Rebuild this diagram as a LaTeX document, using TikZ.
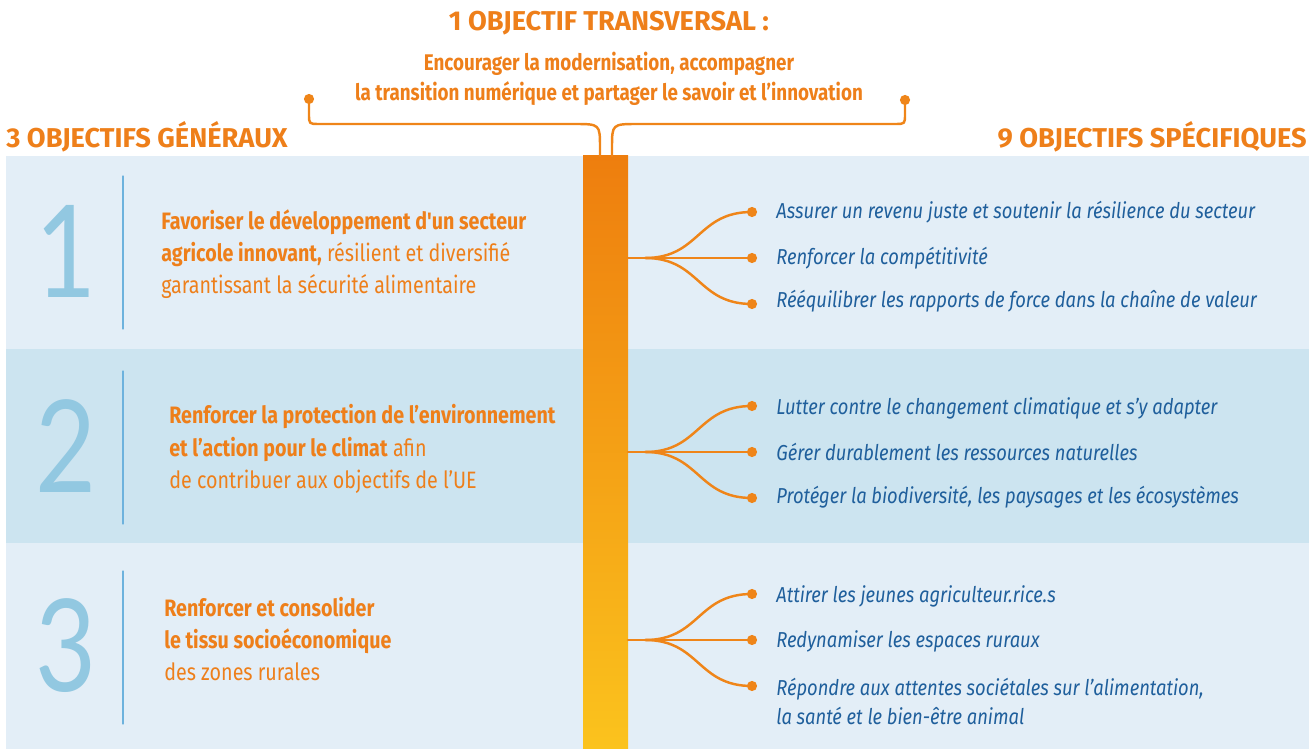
\documentclass[tikz,border=0pt]{standalone}
\usepackage{fontspec}
\setmainfont{Fira Sans}
\newfontfamily\titrefont{Fira Sans}[FakeStretch=1.0]
\newfontfamily\corpsfont{Fira Sans}[FakeStretch=0.83]
\newfontfamily\specfont{Fira Sans}[FakeStretch=0.85]
\newfontfamily\chiffrefont{Lato}[FakeStretch=0.82]

\definecolor{orangeT}{HTML}{EE7F1A}
\definecolor{bleuT}{HTML}{1F5F9C}
\definecolor{bleuN}{HTML}{92C8E1}
\definecolor{bleuL}{HTML}{6DB2DD}
\definecolor{fondA}{HTML}{E3EEF7}
\definecolor{fondB}{HTML}{CCE4F0}
\definecolor{barreH}{HTML}{EE7E0E}
\definecolor{barreB}{HTML}{FBC31D}
\definecolor{lien}{HTML}{EF8519}

\tikzset{
	lienligne/.style={draw=lien,line width=1.4pt},
	point/.style={fill=lien},
	titre/.style={text=orangeT,font=\titrefont\bfseries\fontsize{15.5}{17}\selectfont},
	general/.style={text=orangeT,align=left,anchor=west,inner sep=0pt,font=\corpsfont\fontsize{13.5}{18.4}\selectfont},
	specifique/.style={text=bleuT,align=left,anchor=west,inner sep=0pt,font=\specfont\itshape\fontsize{12.3}{16.4}\selectfont},
	chiffre/.style={text=bleuN,font=\chiffrefont\fontsize{73}{73}\selectfont},
}

\begin{document}
\begin{tikzpicture}[x=0.02cm,y=-0.02cm,line join=round,line cap=round]
	\useasboundingbox (0,0) rectangle (1309,749);
	
	% bandes
	\fill[fondA] (6,156) rectangle (1309,349);
	\fill[fondB] (6,349) rectangle (1309,543);
	\fill[fondA] (6,543) rectangle (1309,749);
	
	% barre centrale
	\shade[top color=barreH,bottom color=barreB] (583,156) rectangle (628,749);
	
	% en-tetes
	\node[titre] (transv) at (609,23) {1 OBJECTIF TRANSVERSAL :};
	\node[titre,font=\corpsfont\bfseries\fontsize{12.9}{17}\selectfont,align=center] (encourager) at (609,79)
		{Encourager la modernisation, accompagner\\la transition numérique et partager le savoir et l’innovation};
	\node[titre,anchor=west,inner sep=0pt] (gen) at (6,137) {3 OBJECTIFS GÉNÉRAUX};
	\node[titre,anchor=east,inner sep=0pt] (spec) at (1307,137) {9 OBJECTIFS SPÉCIFIQUES};
	
	% accolade du haut
	\coordinate (G) at (309,99);
	\coordinate (D) at (905,100);
	\coordinate (GB) at (600,156);
	\coordinate (DB) at (612,156);
	\draw[lienligne] (G) -- (309,114) .. controls (309,124) .. (319,124) -- (574,124)
		.. controls (600,124) .. (600,148) -- (GB);
	\draw[lienligne] (D) -- (905,114) .. controls (905,124) .. (895,124) -- (638,124)
		.. controls (612,124) .. (612,148) -- (DB);
	\fill[point] (G) circle (2.9pt) (D) circle (2.9pt);
	
	% objectifs generaux
	\foreach \n/\y in {1/251,2/446,3/646}{
		\node[chiffre] (num\n) at (66,\y) {\n};
		\draw[bleuL,line width=0.7pt] (123,\y-75) -- (123,\y+78);
	}
	\node[general] (og1) at (161,254)
		{\textbf{Favoriser le développement d'un secteur}\\\textbf{agricole innovant,} résilient et diversifié\\garantissant la sécurité alimentaire};
	\node[general] (og2) at (169,449)
		{\textbf{Renforcer la protection de l’environnement}\\\textbf{et l’action pour le climat} afin\\de contribuer aux objectifs de l’UE};
	\node[general] (og3) at (164,639)
		{\textbf{Renforcer et consolider}\\\textbf{le tissu socioéconomique}\\des zones rurales};
	
	% branches
	\foreach \n/\y in {1/258,2/452,3/640}{
		\coordinate (S\n) at (628,\y);
		\coordinate (B\n) at (645,\y);
		\coordinate (P\n1) at (752,\y-46);
		\coordinate (P\n2) at (752,\y);
		\coordinate (P\n3) at (752,\y+46);
		\draw[lienligne] (S\n) -- (P\n2);
		\draw[lienligne] (B\n) .. controls (700,\y) and (697,\y-46) .. (P\n1);
		\draw[lienligne] (B\n) .. controls (700,\y) and (697,\y+46) .. (P\n3);
		\fill[point] (P\n1) circle (2.9pt) (P\n2) circle (2.9pt) (P\n3) circle (2.9pt);
	}
	
	% objectifs specifiques
	\node[specifique] (os11) at (776,212) {Assurer un revenu juste et soutenir la résilience du secteur};
	\node[specifique] (os12) at (776,258) {Renforcer la compétitivité};
	\node[specifique] (os13) at (776,301) {Rééquilibrer les rapports de force dans la chaîne de valeur};
	\node[specifique] (os21) at (776,408) {Lutter contre le changement climatique et s’y adapter};
	\node[specifique] (os22) at (776,452) {Gérer durablement les ressources naturelles};
	\node[specifique] (os23) at (776,497) {Protéger la biodiversité, les paysages et les écosystèmes};
	\node[specifique] (os31) at (776,596) {Attirer les jeunes agriculteur.rice.s};
	\node[specifique] (os32) at (776,641) {Redynamiser les espaces ruraux};
	\node[specifique,anchor=north west] (os33) at (776,678) {Répondre aux attentes sociétales sur l’alimentation,\\la santé et le bien-être animal};
\end{tikzpicture}
\end{document}
